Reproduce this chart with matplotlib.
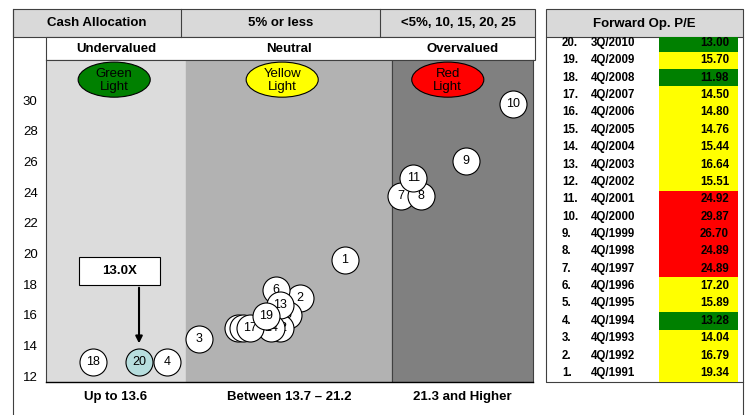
import matplotlib.pyplot as plt
from matplotlib.patches import Rectangle, Ellipse

plt.rcParams['font.family'] = ['Liberation Sans', 'DejaVu Sans']

# bubbles: number, position across the chart (0-100) and height on the P/E scale
bubble_ids = [1, 2, 3, 4, 5, 6, 7, 8, 9, 10, 11, 12, 13, 14, 15, 16, 17, 18, 19, 20]
bubble_x = [61.4, 52.2, 31.4, 24.8, 49.7, 47.2, 72.9, 77.0, 86.2, 95.9,
            75.4, 48.0, 48.0, 46.2, 39.4, 40.5, 41.9, 9.7, 45.2, 19.1]
bubble_y = [19.57, 17.09, 14.41, 12.91, 15.98, 17.61, 23.74, 23.74, 26.02, 29.74,
            24.90, 15.13, 16.63, 15.13, 15.13, 15.13, 15.13, 12.91, 15.91, 12.91]
current_id = 20

# zones
zone_edges = [0, 28.7, 71.0, 100]
zone_colors = ['#dcdcdc', '#b2b2b2', '#808080']
zone_names = ['Undervalued', 'Neutral', 'Overvalued']
zone_lights = ['Green\nLight', 'Yellow\nLight', 'Red\nLight']
light_colors = ['#008000', '#ffff00', '#ff0000']
zone_ranges = ['Up to 13.6', 'Between 13.7 \u2013 21.2', '21.3 and Higher']
pe_limits = [13.6, 21.2]
cash_labels = ['Cash Allocation', '5% or less', '<5%, 10, 15, 20, 25']
yticks = [12, 14, 16, 18, 20, 22, 24, 26, 28, 30]
callout = '13.0X'

# table
table_ids = list(range(20, 0, -1))
table_quarters = ['3Q/2010', '4Q/2009', '4Q/2008', '4Q/2007', '4Q/2006', '4Q/2005',
                  '4Q/2004', '4Q/2003', '4Q/2002', '4Q/2001', '4Q/2000', '4Q/1999',
                  '4Q/1998', '4Q/1997', '4Q/1996', '4Q/1995', '4Q/1994', '4Q/1993',
                  '4Q/1992', '4Q/1991']
table_pe = [13.00, 15.70, 11.98, 14.50, 14.80, 14.76, 15.44, 16.64, 15.51, 24.92,
            29.87, 26.70, 24.89, 24.89, 17.20, 15.89, 13.28, 14.04, 16.79, 19.34]

W, H = 749, 415
fig = plt.figure(figsize=(W / 100, H / 100), dpi=100)


def box(x0, y0, x1, y1):
    return [x0 / W, 1 - y1 / H, (x1 - x0) / W, (y1 - y0) / H]


# background layer for header boxes and frame lines (pixel coords)
bg = fig.add_axes([0, 0, 1, 1])
bg.set_xlim(0, W)
bg.set_ylim(H, 0)
bg.axis('off')
edge = '#404040'
bg.add_patch(Rectangle((13, 9), 522, 28, facecolor='#d9d9d9', edgecolor=edge, lw=0.8))
for xd in [181, 380]:
    bg.plot([xd, xd], [9, 37], color=edge, lw=0.8)
for xc, t in zip([97, 281, 458], cash_labels):
    bg.text(xc, 23.5, t, ha='center', va='center', fontsize=9.5, fontweight='bold')
bg.add_patch(Rectangle((46, 37), 489, 23, facecolor='white', edgecolor=edge, lw=0.8))
bg.plot([13, 13], [9, 415], color=edge, lw=0.8)
bg.add_patch(Rectangle((546, 9), 197, 28, facecolor='#d9d9d9', edgecolor=edge, lw=0.8))
bg.text(644.5, 23.5, 'Forward Op. P/E', ha='center', va='center', fontsize=9.5, fontweight='bold')
bg.plot([546, 546, 743], [37, 382, 382], color=edge, lw=0.8)
bg.plot([743, 743], [37, 415], color=edge, lw=0.8)

# main chart
ax = fig.add_axes(box(46, 60, 533, 382))
ax.set_xlim(0, 100)
ax.set_ylim(11.61, 32.61)
for i in range(3):
    ax.axvspan(zone_edges[i], zone_edges[i + 1], color=zone_colors[i], zorder=0)
ax.axvline(zone_edges[2], color='#404040', lw=0.8, zorder=1)
for s in ax.spines.values():
    s.set_color('#404040')
    s.set_linewidth(0.8)
ax.spines['bottom'].set_color('black')
ax.spines['bottom'].set_linewidth(1.0)
ax.set_xticks([])
ax.set_yticks(yticks)
ax.tick_params(axis='y', length=0, pad=6, labelsize=9.5)

for i in range(3):
    xc = (zone_edges[i] + zone_edges[i + 1]) / 2
    ax.text(xc, 33.33, zone_names[i], ha='center', va='center', fontsize=9.5,
            fontweight='bold', clip_on=False)
    ax.text(xc, 10.6, zone_ranges[i], ha='center', va='center', fontsize=9.5,
            fontweight='bold', clip_on=False)

light_x = [0.140, 0.485, 0.825]
for lx, lt, lc in zip(light_x, zone_lights, light_colors):
    ax.add_patch(Ellipse((lx, 0.939), 0.148, 0.109, transform=ax.transAxes,
                         facecolor=lc, edgecolor='black', lw=0.8, zorder=2))
    ax.text(lx, 0.937, lt, transform=ax.transAxes, ha='center', va='center',
            fontsize=9.5, linespacing=1.05, zorder=3)

# bubbles, drawn one by one so later numbers sit on top
for k, (bid, bx, by) in enumerate(zip(bubble_ids, bubble_x, bubble_y)):
    fc = '#b7dede' if bid == current_id else 'white'
    ax.scatter([bx], [by], s=378, facecolor=fc, edgecolor='black', linewidth=0.8,
               zorder=5 + 2 * k)
    ax.text(bx, by, str(bid), ha='center', va='center', fontsize=9, zorder=6 + 2 * k)

# callout
cx = bubble_x[bubble_ids.index(current_id)]
ax.add_patch(Rectangle((6.8, 17.94), 16.6, 1.82, facecolor='white', edgecolor='black',
                       lw=0.8, zorder=4))
ax.text(15.1, 18.85, callout, ha='center', va='center', fontsize=9.5, fontweight='bold', zorder=4)
ax.annotate('', xy=(cx, 13.95), xytext=(cx, 17.94),
            arrowprops=dict(arrowstyle='-|>', color='black', lw=1.5, mutation_scale=10),
            zorder=4)

# table
tb = fig.add_axes(box(546, 37, 743, 382))
tb.set_xlim(0, 1)
tb.set_ylim(0.48, 20.34)
tb.axis('off')
cell_colors = ['#008000' if v < pe_limits[0] else ('#ff0000' if v > pe_limits[1] else '#ffff00')
               for v in table_pe]
tb.barh(table_ids, [0.401] * 20, left=0.574, height=1.0, color=cell_colors)
for tid, q, v in zip(table_ids, table_quarters, table_pe):
    tb.text(0.081, tid, f'{tid}.', ha='left', va='center', fontsize=8.3, fontweight='bold')
    tb.text(0.228, tid, q, ha='left', va='center', fontsize=8.3, fontweight='bold')
    tb.text(0.929, tid, f'{v:.2f}', ha='right', va='center', fontsize=8.3, fontweight='bold')

fig.savefig('out.png', dpi=100)
